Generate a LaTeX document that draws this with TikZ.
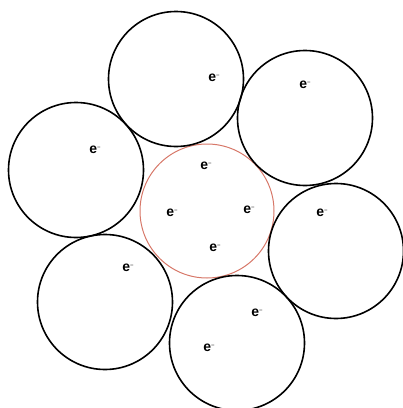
\documentclass[tikz,border=0pt]{standalone}
\usepackage{fontspec}
\setmainfont{Liberation Sans}
\definecolor{ionred}{RGB}{215,120,105}
\begin{document}
\begin{tikzpicture}[x=1pt,y=-1pt,
  atom/.style={draw=black,line width=1.6pt,circle,minimum size=135pt,inner sep=0pt},
  ion/.style={draw=ionred,line width=1pt,circle,minimum size=134pt,inner sep=0pt},
  elec/.style={inner sep=0pt,font=\bfseries\fontsize{14}{14}\selectfont}]
\useasboundingbox (0,0) rectangle (403,408);
\node[ion] (c) at (207,211) {};
\node[atom] (a1) at (176,79) {};
\node[atom] (a2) at (305,118) {};
\node[atom] (a3) at (336,251) {};
\node[atom] (a4) at (237,343) {};
\node[atom] (a5) at (105,302) {};
\node[atom] (a6) at (76,170) {};
\newcommand{\el}{e\raisebox{0.6ex}{\mdseries\fontsize{6}{6}\selectfont\textminus}}
\node[elec] (e1) at (214,78) {\el};
\node[elec] (e2) at (305,85) {\el};
\node[elec] (e3) at (95,150) {\el};
\node[elec] (e4) at (206,166) {\el};
\node[elec] (e5) at (172,213) {\el};
\node[elec] (e6) at (249,210) {\el};
\node[elec] (e7) at (215,248) {\el};
\node[elec] (e8) at (322,213) {\el};
\node[elec] (e9) at (128,268) {\el};
\node[elec] (e10) at (257,313) {\el};
\node[elec] (e11) at (209,348) {\el};
\end{tikzpicture}
\end{document}
